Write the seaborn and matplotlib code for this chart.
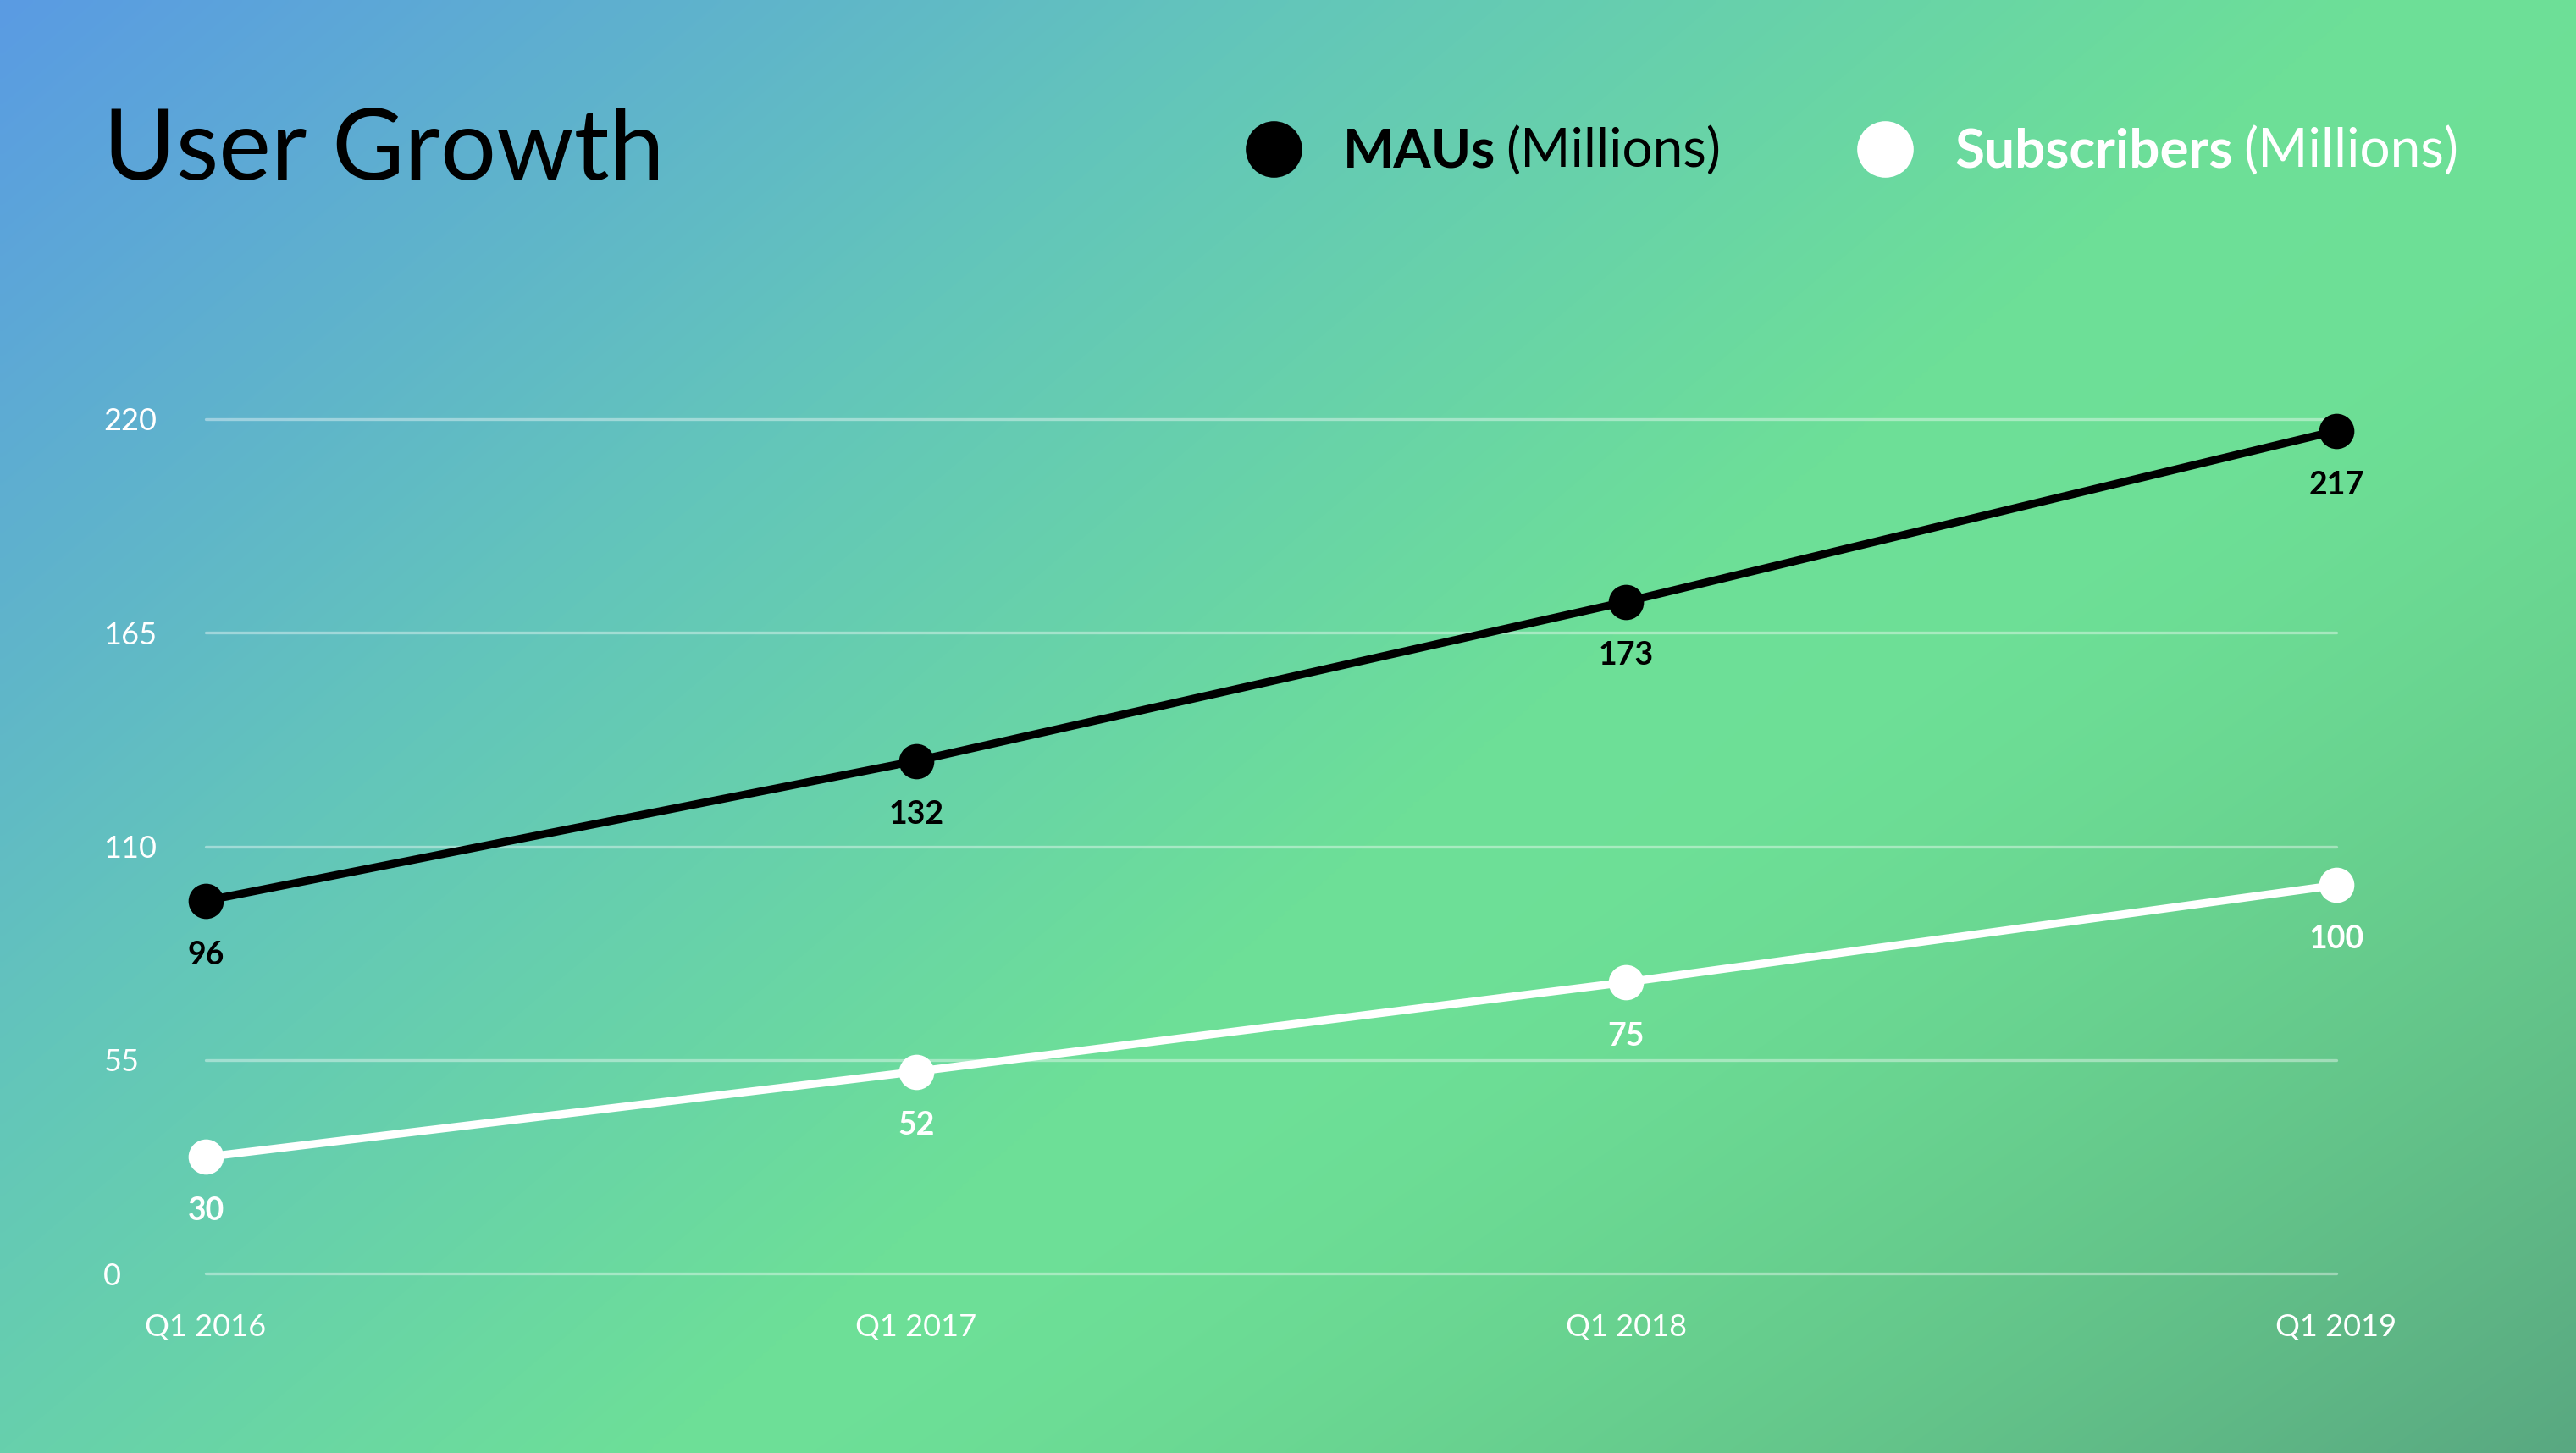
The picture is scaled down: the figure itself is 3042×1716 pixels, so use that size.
import numpy as np
import pandas as pd
import seaborn as sns
import matplotlib.pyplot as plt
from matplotlib.colors import to_rgb
from matplotlib.lines import Line2D

# data
quarters = ['Q1 2016', 'Q1 2017', 'Q1 2018', 'Q1 2019']
maus = [96, 132, 173, 217]
subs = [30, 52, 75, 100]
yticks = [0, 55, 110, 165, 220]

sns.set_theme(style='white')
plt.rcParams['font.family'] = ['Lato', 'DejaVu Sans']

W, H = 3042, 1716
fig = plt.figure(figsize=(W / 100, H / 100), dpi=100)

# background gradient: blue top-left -> green, darker green toward bottom-right
xx, yy = np.meshgrid(np.linspace(0, 1, 400), np.linspace(0, 1, 240))
s = 0.6 * xx + 0.4 * yy
stops = [0, 0.3, 0.55, 1.0]
cols = np.array([to_rgb(c) for c in ['#5a9be3', '#63c6ba', '#6ddf98', '#6ee090']])
img = np.stack([np.interp(s, stops, cols[:, k]) for k in range(3)], axis=-1)
d = np.clip((0.55 * xx + 0.45 * yy - 0.62) / 0.38, 0, 1) ** 1.4
dark = np.array(to_rgb('#59a881'))
img = img * (1 - d[..., None]) + dark * d[..., None]

bg = fig.add_axes([0, 0, 1, 1], zorder=-10)
bg.imshow(img, aspect='auto', extent=(0, 1, 1, 0), interpolation='bilinear')
bg.axis('off')

# main chart
ax = fig.add_axes([243 / W, 1 - 1504 / H, (2759 - 243) / W, (1504 - 495) / H])
ax.patch.set_alpha(0)

df = pd.DataFrame({'quarter': quarters * 2,
                   'value': maus + subs,
                   'series': ['MAUs'] * 4 + ['Subscribers'] * 4})
sns.lineplot(data=df, x='quarter', y='value', hue='series',
             palette={'MAUs': 'black', 'Subscribers': 'white'},
             marker='o', markersize=30, markeredgewidth=0, linewidth=6.8,
             legend=False, ax=ax, clip_on=False)

for vals, color in [(maus, 'black'), (subs, 'white')]:
    for i, v in enumerate(vals):
        ax.annotate(str(v), (i, v), xytext=(0, -46), textcoords='offset points',
                    ha='center', va='center', fontsize=27, fontweight='bold', color=color)

ax.set_xlim(0, 3)
ax.set_ylim(0, 220)
ax.set_yticks(yticks)
ax.set_yticklabels([str(t) for t in yticks], ha='left')
ax.set_xticks(range(4))
ax.set_xticklabels(quarters)
ax.grid(axis='y', color='white', alpha=0.4, linewidth=2.4)
ax.set_axisbelow(True)
for gl in ax.yaxis.get_gridlines():
    gl.set_clip_on(False)
sns.despine(ax=ax, left=True, bottom=True)
ax.tick_params(axis='y', length=0, pad=87, labelsize=26, labelcolor='white')
ax.tick_params(axis='x', length=0, pad=34, labelsize=26, labelcolor='white')
ax.set_xlabel('')
ax.set_ylabel('')

# title
fig.text(122 / W, 1 - 212 / H, 'User Growth', fontsize=84, va='baseline', ha='left', color='black')

# legend
renderer = fig.canvas.get_renderer()
for name, color, cx, tx in [('MAUs', 'black', 1504, 1586), ('Subscribers', 'white', 2226, 2309)]:
    fig.add_artist(Line2D([cx / W], [1 - 176 / H], marker='o', markersize=48, markeredgewidth=0,
                          color=color, transform=fig.transFigure))
    t = fig.text(tx / W, 1 - 198 / H, name, fontsize=46, fontweight='bold', va='baseline', ha='left', color=color)
    bb = t.get_window_extent(renderer)
    fig.text((bb.x1 + 12) / W, 1 - 198 / H, '(Millions)', fontsize=46, va='baseline', ha='left', color=color)

fig.savefig('out.png', dpi=100)
